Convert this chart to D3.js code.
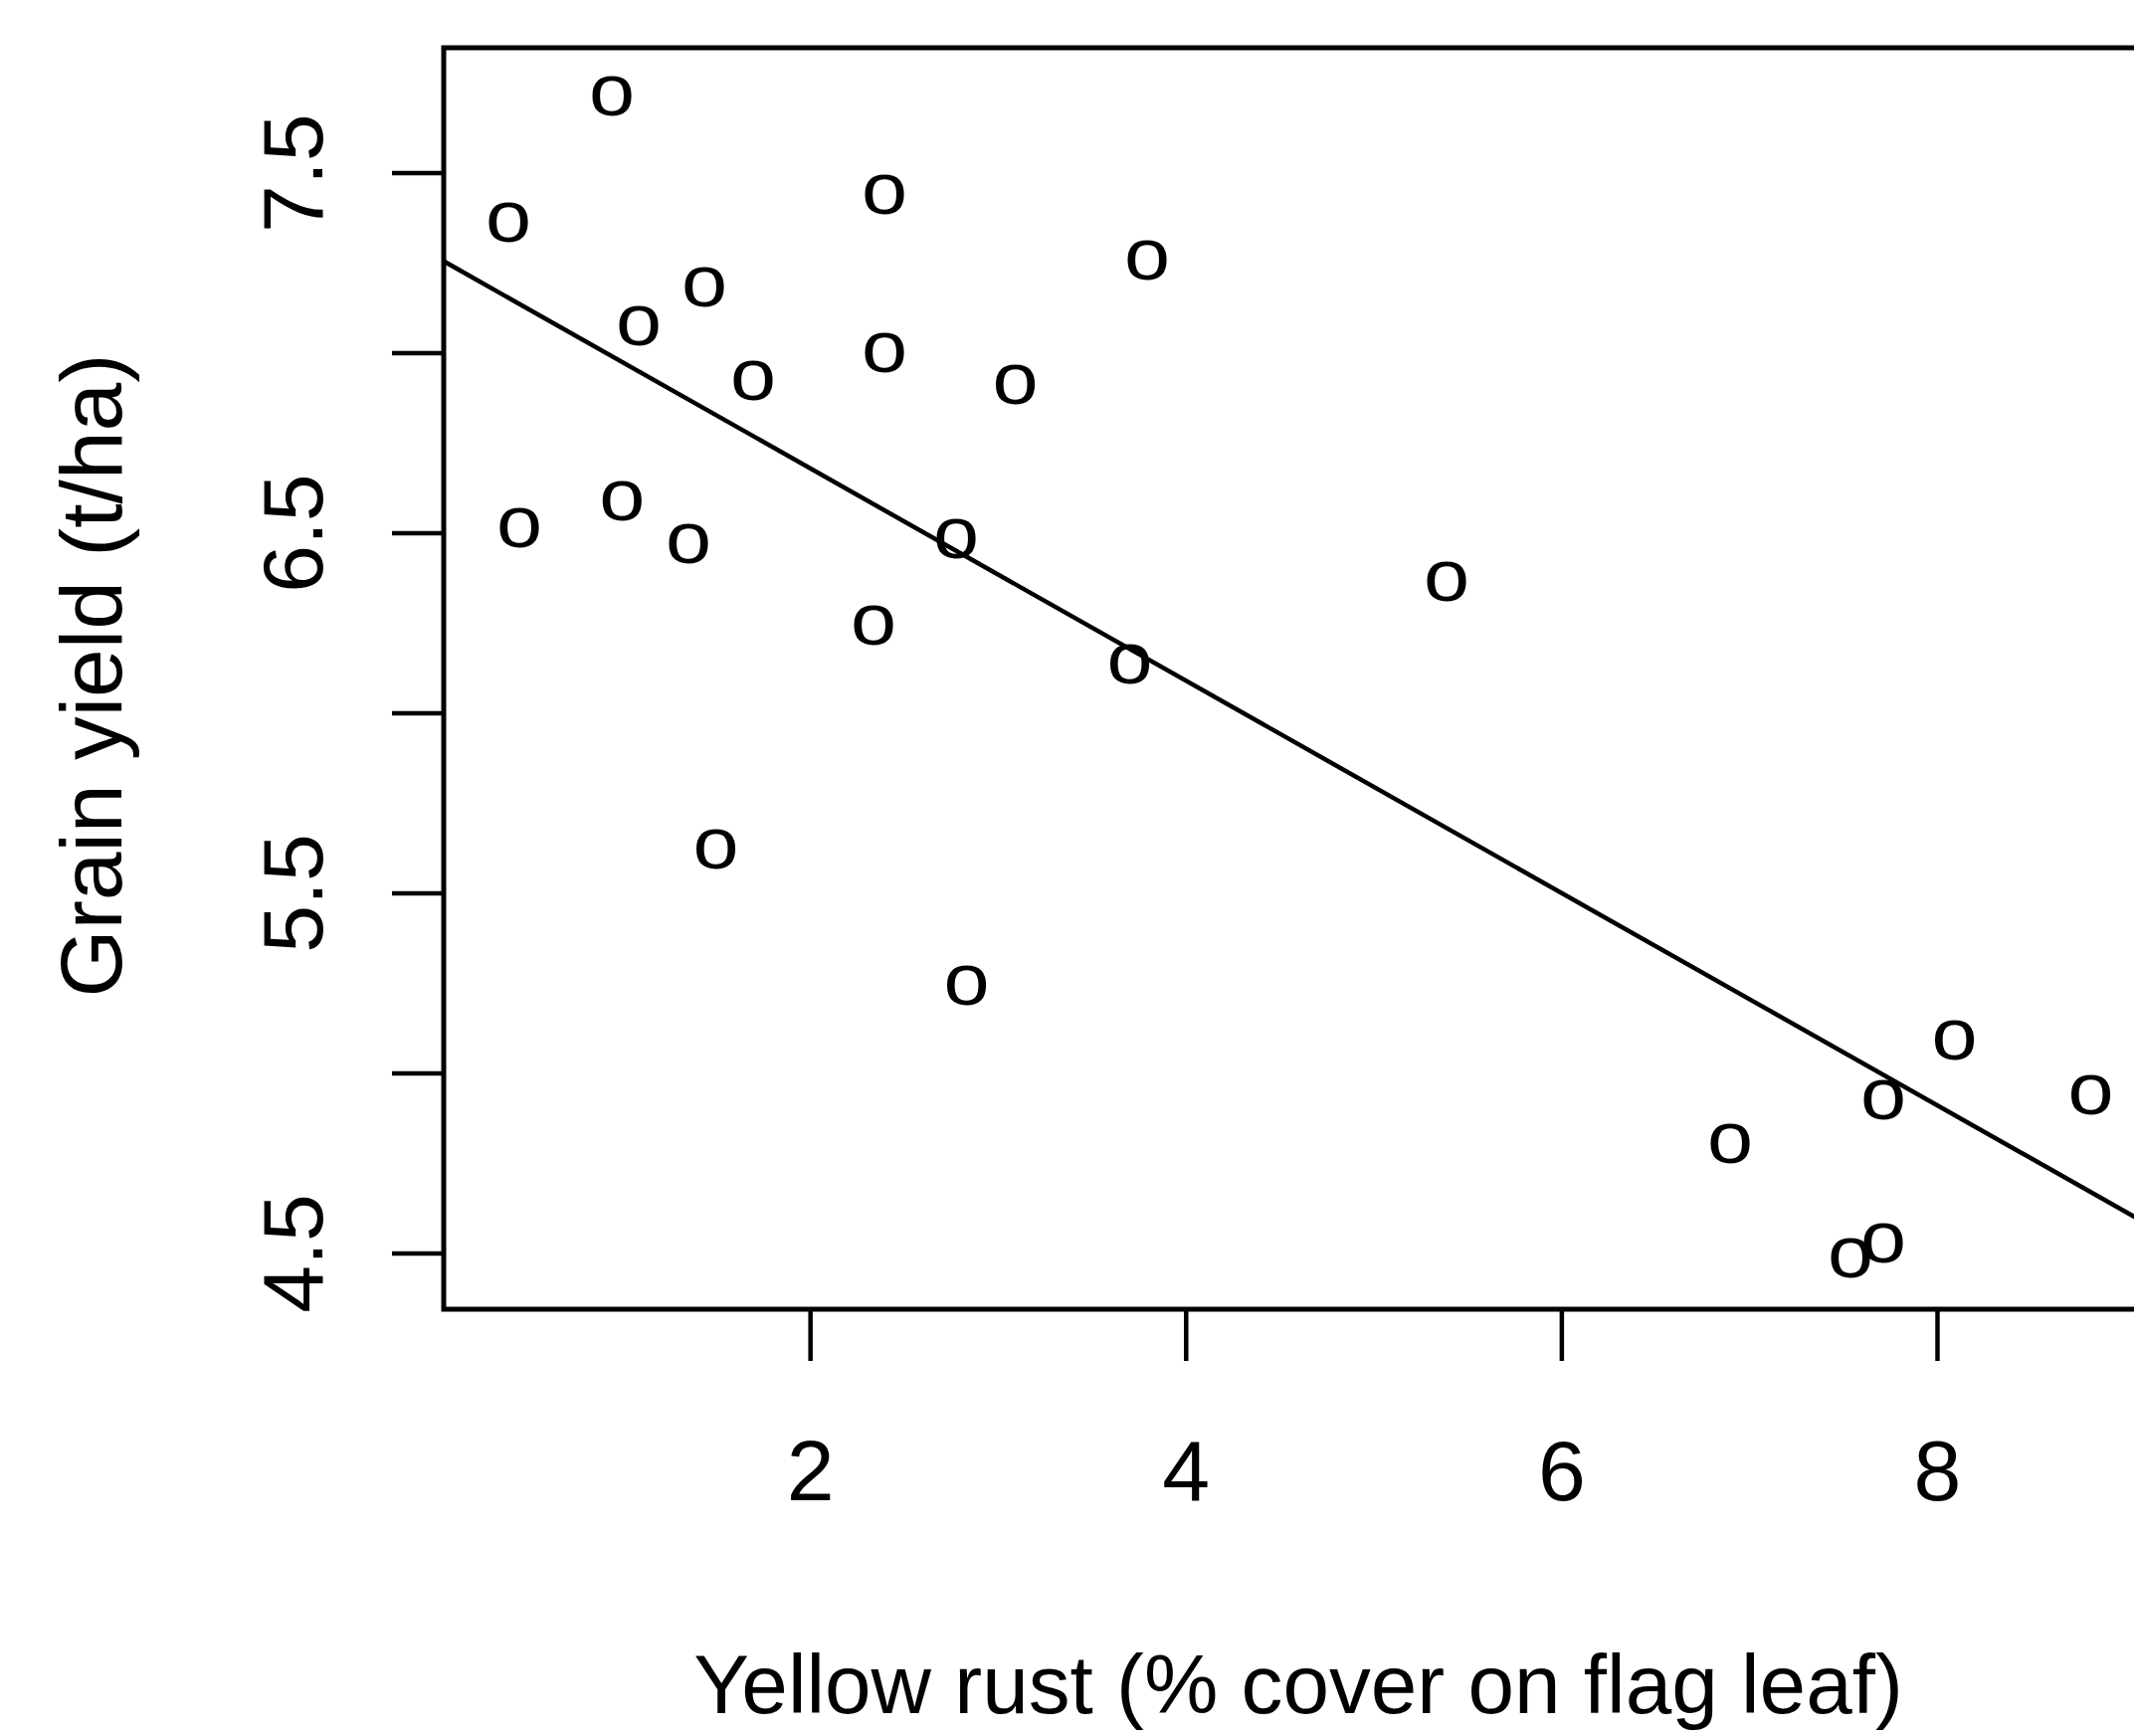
<!DOCTYPE html>
<html>
<head>
<meta charset="utf-8">
<script src="https://cdn.jsdelivr.net/npm/d3@7"></script>
<style>
  body { margin: 0; background: #fff; }
  svg { display: block; }
  text { font-family: "Liberation Sans", Arial, Helvetica, sans-serif; fill: #000; }
</style>
</head>
<body>
<div id="chart"></div>
<script>
// Yellow rust (% cover on flag leaf), one value per plot
const rust = [0.394, 0.945, 0.453, 1.000, 1.088, 1.438, 1.353, 1.697, 1.499, 2.396, 2.396, 2.338,
              2.778, 2.833, 3.093, 3.795, 3.702, 5.389, 6.898, 7.539, 7.714, 7.714, 8.093, 8.819];
// Grain yield (t/ha), same order
const grainYield = [7.361, 7.713, 6.513, 6.589, 7.074, 7.181, 6.469, 6.922, 5.620, 7.438, 7.000, 6.242,
                    6.484, 5.242, 6.911, 7.257, 6.134, 6.364, 4.803, 4.485, 4.528, 4.924, 5.091, 4.938];

// fitted line: yield = intercept + slope * rust
const fitIntercept = 7.269;
const fitSlope = -0.2948;

// axis limits and ticks
const xLimits = [0.05, 9.16];
const yLimits = [4.344, 7.847];
const xTicks = [2, 4, 6, 8];
const yTicks = [4.5, 5, 5.5, 6, 6.5, 7, 7.5];
const yTickLabels = [4.5, 5.5, 6.5, 7.5];

const xTitle = "Yellow rust (% cover on flag leaf)";
const yTitle = "Grain yield (t/ha)";

// Chart dimensions (plot box runs past the right edge of the picture)
const width = 2145;
const height = 1745;
const plotLeft = 446;
const plotRight = 2166;
const plotTop = 48;
const plotBottom = 1316;
const fontSize = 86;
const tickLength = 52;

const x = d3.scaleLinear().domain(xLimits).range([plotLeft, plotRight]);
const y = d3.scaleLinear().domain(yLimits).range([plotBottom, plotTop]);

const svg = d3.select("#chart")
    .append("svg")
    .attr("width", width)
    .attr("height", height)
    .attr("viewBox", [0, 0, width, height]);

svg.append("rect")
    .attr("width", width)
    .attr("height", height)
    .attr("fill", "#fff");

svg.append("clipPath")
    .attr("id", "plot-clip")
    .append("rect")
    .attr("x", plotLeft)
    .attr("y", plotTop)
    .attr("width", plotRight - plotLeft)
    .attr("height", plotBottom - plotTop);

// x axis
svg.append("g")
    .attr("transform", `translate(0,${plotBottom})`)
    .call(d3.axisBottom(x).tickValues(xTicks).tickSize(tickLength).tickPadding(79).tickFormat(d3.format("d")))
    .call(g => g.select(".domain").remove())
    .call(g => g.selectAll(".tick line").attr("stroke", "#000").attr("stroke-width", 4.5))
    .call(g => g.selectAll(".tick text")
        .attr("font-size", fontSize)
        .attr("font-family", null)
        .attr("fill", "#000"));

// y axis, labels turned to read upwards, only every other one
svg.append("g")
    .attr("transform", `translate(${plotLeft},0)`)
    .call(d3.axisLeft(y).tickValues(yTicks).tickSize(tickLength)
        .tickFormat(d => yTickLabels.includes(d) ? d3.format(".1f")(d) : ""))
    .call(g => g.select(".domain").remove())
    .call(g => g.selectAll(".tick line").attr("stroke", "#000").attr("stroke-width", 4.5))
    .call(g => g.selectAll(".tick text")
        .attr("x", null)
        .attr("dy", null)
        .attr("text-anchor", "middle")
        .attr("transform", "translate(-122,0) rotate(-90)")
        .attr("font-size", fontSize)
        .attr("font-family", null)
        .attr("fill", "#000"));

// fitted line
const plotArea = svg.append("g").attr("clip-path", "url(#plot-clip)");

plotArea.append("line")
    .attr("x1", x(xLimits[0]))
    .attr("y1", y(fitIntercept + fitSlope * xLimits[0]))
    .attr("x2", x(xLimits[1]))
    .attr("y2", y(fitIntercept + fitSlope * xLimits[1]))
    .attr("stroke", "#000")
    .attr("stroke-width", 4.5);

// points drawn as the letter "o"
plotArea.append("g")
    .selectAll("text")
    .data(d3.range(rust.length))
    .join("text")
    .attr("transform", i => `translate(${x(rust[i])},${y(grainYield[i])}) scale(1.12,1)`)
    .attr("text-anchor", "middle")
    .attr("dy", "0.26em")
    .attr("font-size", 74)
    .text("o");

// plot box
svg.append("rect")
    .attr("x", plotLeft)
    .attr("y", plotTop)
    .attr("width", plotRight - plotLeft)
    .attr("height", plotBottom - plotTop)
    .attr("fill", "none")
    .attr("stroke", "#000")
    .attr("stroke-width", 5);

// axis titles
svg.append("text")
    .attr("x", (plotLeft + plotRight) / 2 - 1)
    .attr("y", 1722)
    .attr("text-anchor", "middle")
    .attr("font-size", 83.7)
    .text(xTitle);

svg.append("text")
    .attr("transform", `translate(122,${(plotTop + plotBottom) / 2 - 3}) rotate(-90)`)
    .attr("text-anchor", "middle")
    .attr("font-size", 87.5)
    .text(yTitle);
</script>
</body>
</html>
